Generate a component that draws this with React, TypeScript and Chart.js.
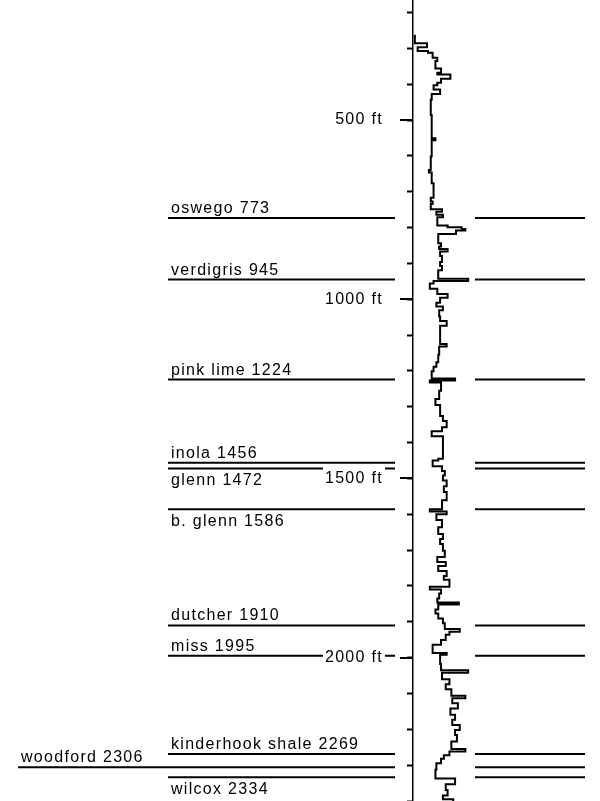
import { useEffect, useRef } from 'react';
import { Chart, registerables } from 'chart.js';

Chart.register(...registerables);

// ---- data -------------------------------------------------------------
const formationNames = [
  'oswego', 'verdigris', 'pink lime', 'inola', 'glenn', 'b. glenn',
  'dutcher', 'miss', 'kinderhook shale', 'woodford', 'wilcox',
];
const formationDepthsFt = [773, 945, 1224, 1456, 1472, 1586, 1910, 1995, 2269, 2306, 2334];

// log trace: depth (ft) where each reading starts, and the reading (arbitrary log units)
const traceDepthFt = [
  262, 286, 297, 307, 312, 326, 335, 356, 368, 373, 385, 396, 403, 415, 427, 443, 486, 551, 556, 602,
  639, 646, 676, 717, 727, 734, 749, 756, 764, 771, 794, 799, 804, 808, 818, 844, 853, 860, 867, 879,
  896, 907, 919, 943, 949, 956, 971, 985, 996, 1010, 1020, 1031, 1048, 1061, 1074, 1125, 1132, 1155, 1176, 1188,
  1201, 1221, 1227, 1232, 1255, 1278, 1295, 1326, 1340, 1357, 1368, 1382, 1445, 1450, 1466, 1479, 1492, 1506, 1522, 1538,
  1561, 1586, 1592, 1600, 1616, 1636, 1655, 1669, 1683, 1702, 1719, 1733, 1744, 1758, 1772, 1783, 1802, 1810, 1821, 1835,
  1846, 1852, 1866, 1877, 1891, 1904, 1920, 1928, 1936, 1951, 1964, 1987, 1992, 2018, 2035, 2042, 2060, 2074, 2088, 2106,
  2113, 2127, 2142, 2159, 2173, 2188, 2202, 2216, 2234, 2255, 2262, 2272, 2282, 2295, 2313, 2337, 2353, 2369, 2385, 2395,
  2404, 2414, 2436,
];
const traceValue = [
  2, 15, 5, 16, 21, 26, 24, 30, 26, 40, 30, 26, 22, 29, 20, 19, 20, 24, 20, 19,
  17, 20, 22, 19, 21, 19, 31, 25, 32, 26, 37, 52, 56, 46, 27, 30, 28, 37, 29, 31,
  29, 31, 27, 59, 22, 18, 26, 37, 29, 25, 32, 28, 29, 36, 29, 36, 28, 27, 25, 22,
  20, 45, 18, 30, 28, 24, 29, 32, 36, 31, 20, 32, 27, 21, 31, 34, 32, 36, 33, 36,
  31, 18, 36, 25, 31, 27, 32, 29, 32, 34, 26, 35, 27, 36, 33, 39, 18, 30, 28, 26,
  49, 27, 24, 27, 32, 34, 50, 39, 35, 30, 21, 36, 29, 30, 59, 31, 39, 35, 41, 56,
  42, 48, 40, 45, 42, 50, 45, 47, 41, 56, 39, 33, 30, 25, 24, 45, 35, 37, 32, 43,
  33, 29, 29,
];

const depthMinFt = 165;
const depthMaxFt = 2400;
const majorTickStepFt = 500;
const minorTickStepFt = 100;
const logValueMin = 0;
const logValueMax = 200;

// ---- layout / style ------------------------------------------------------
const FONT = '"Liberation Sans", Arial, Helvetica, sans-serif';
const LETTER_SPACING = '1.3px';
const layoutCfg = {
  axisX: 413,
  leftLineStart: 168,
  longLineStart: 18,
  leftLineEnd: 395,
  rightLineStart: 475,
  rightLineEnd: 585,
  labelInset: 3,
  labelAboveGap: 5,
  labelBelowGap: 17,
  belowNames: ['glenn', 'b. glenn', 'wilcox'],
  longNames: ['woodford'],
};

const formationPlugin = {
  id: 'formationTops',
  beforeLayout(chart: any) {
    chart.ctx.letterSpacing = LETTER_SPACING;
  },
  beforeDraw(chart: any) {
    const ctx = chart.ctx;
    ctx.letterSpacing = LETTER_SPACING;
    const yScale = chart.scales.y;
    ctx.save();
    ctx.strokeStyle = '#000';
    ctx.fillStyle = '#000';
    ctx.lineWidth = 2;
    ctx.font = `16px ${FONT}`;
    ctx.textAlign = 'left';
    ctx.textBaseline = 'alphabetic';
    formationNames.forEach((name, i) => {
      const depth = formationDepthsFt[i];
      const py = yScale.getPixelForValue(depth);
      const x0 = layoutCfg.longNames.includes(name) ? layoutCfg.longLineStart : layoutCfg.leftLineStart;
      ctx.beginPath();
      ctx.moveTo(x0, py);
      ctx.lineTo(layoutCfg.leftLineEnd, py);
      ctx.moveTo(layoutCfg.rightLineStart, py);
      ctx.lineTo(layoutCfg.rightLineEnd, py);
      ctx.stroke();
      const below = layoutCfg.belowNames.includes(name);
      ctx.fillText(
        `${name} ${depth}`,
        x0 + layoutCfg.labelInset,
        below ? py + layoutCfg.labelBelowGap : py - layoutCfg.labelAboveGap,
      );
    });
    ctx.restore();
  },
};

export default function App() {
  const canvasRef = useRef<HTMLCanvasElement | null>(null);

  useEffect(() => {
    const canvas = canvasRef.current;
    if (!canvas) return;
    const points = traceDepthFt.map((d, i) => ({ x: traceValue[i], y: d }));
    const chart = new Chart(canvas, {
      type: 'line',
      data: {
        datasets: [
          {
            data: points,
            borderColor: '#000',
            borderWidth: 2,
            pointRadius: 0,
            stepped: 'after',
            fill: false,
            tension: 0,
          } as any,
        ],
      },
      options: {
        animation: false,
        responsive: true,
        maintainAspectRatio: false,
        events: [],
        layout: { padding: 0 },
        plugins: {
          legend: { display: false },
          tooltip: { enabled: false },
        },
        scales: {
          x: {
            type: 'linear',
            display: false,
            min: logValueMin,
            max: logValueMax,
          },
          y: {
            type: 'linear',
            position: 'left',
            reverse: true,
            min: depthMinFt,
            max: depthMaxFt,
            weight: 1,
            afterBuildTicks: (s: any) => {
              s.ticks = s.ticks.filter((t: any) => t.value % majorTickStepFt === 0);
            },
            afterFit: (s: any) => {
              s.width = layoutCfg.axisX;
              s.paddingTop = 0;
              s.paddingBottom = 0;
            },
            grid: {
              drawOnChartArea: false,
              drawTicks: true,
              tickLength: 13,
              tickWidth: 2,
              tickColor: '#000',
              color: '#000',
              lineWidth: 2,
            },
            border: { display: true, color: '#000', width: 1.5 },
            ticks: {
              stepSize: minorTickStepFt,
              includeBounds: false,
              autoSkip: false,
              padding: 17,
              color: '#000',
              font: { family: FONT, size: 16 },
              callback: (v: any) => `${v} ft`,
              showLabelBackdrop: true,
              backdropColor: '#fff',
              backdropPadding: { top: 3, bottom: 3, left: 2, right: 2 },
            },
          } as any,
          y2: {
            type: 'linear',
            position: 'left',
            reverse: true,
            min: depthMinFt,
            max: depthMaxFt,
            weight: 0,
            afterFit: (s: any) => {
              s.width = 0;
              s.paddingTop = 0;
              s.paddingBottom = 0;
            },
            grid: {
              drawOnChartArea: false,
              drawTicks: true,
              tickLength: 6,
              tickWidth: 2,
              tickColor: '#000',
            },
            border: { display: false },
            ticks: {
              display: false,
              stepSize: minorTickStepFt,
              includeBounds: false,
              autoSkip: false,
            },
          } as any,
        },
      },
      plugins: [formationPlugin],
    });
    return () => chart.destroy();
  }, []);

  return (
    <div
      style={{
        position: 'absolute',
        left: 0,
        top: 0,
        width: 600,
        height: 801,
        background: '#fff',
      }}
    >
      <canvas ref={canvasRef} />
    </div>
  );
}
